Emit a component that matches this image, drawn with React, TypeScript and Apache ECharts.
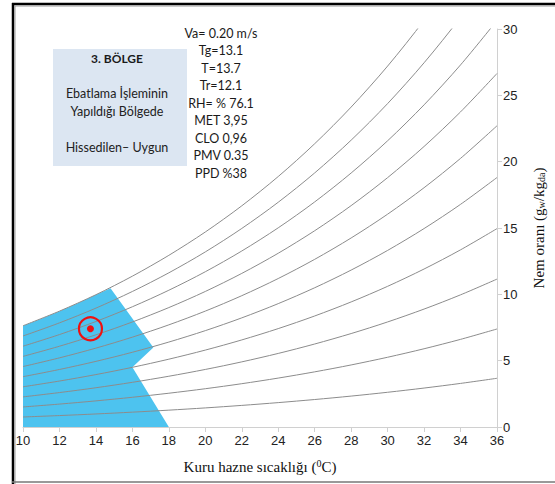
import React, { useEffect, useRef } from "react";
import * as echarts from "echarts";

// Dry-bulb temperatures (°C) at which curve values are read
const temps = [10, 12, 14, 16, 18, 20, 22, 24, 26, 28, 30, 32, 34, 36];
// Humidity ratio (g/kg) for each relative-humidity curve
const rh10 = [0.755, 0.862, 0.983, 1.119, 1.27, 1.439, 1.628, 1.838, 2.071, 2.33, 2.617, 2.935, 3.285, 3.672];
const rh20 = [1.511, 1.727, 1.969, 2.241, 2.546, 2.885, 3.264, 3.687, 4.157, 4.678, 5.257, 5.898, 6.606, 7.388];
const rh30 = [2.27, 2.595, 2.959, 3.368, 3.826, 4.338, 4.909, 5.546, 6.256, 7.044, 7.919, 8.889, 9.962, 11.148];
const rh40 = [3.03, 3.464, 3.951, 4.499, 5.112, 5.797, 6.563, 7.417, 8.369, 9.427, 10.604, 11.909, 13.354, 14.954];
const rh50 = [3.792, 4.336, 4.947, 5.634, 6.403, 7.263, 8.226, 9.299, 10.496, 11.829, 13.311, 14.958, 16.782, 18.805];
const rh60 = [4.556, 5.211, 5.946, 6.773, 7.7, 8.736, 9.897, 11.192, 12.638, 14.249, 16.042, 18.037, 20.248, 22.704];
const rh70 = [5.322, 6.088, 6.948, 7.916, 9.002, 10.216, 11.577, 13.097, 14.795, 16.687, 18.797, 21.145, 23.751, 26.649];
const rh80 = [6.09, 6.967, 7.953, 9.063, 10.309, 11.703, 13.266, 15.013, 16.966, 19.145, 21.575, 24.283, 27.293, 30.644];
const rh90 = [6.859, 7.849, 8.961, 10.215, 11.622, 13.197, 14.965, 16.941, 19.152, 21.621, 24.378, 27.453, 30.875, 34.69];
const rh100 = [7.631, 8.734, 9.973, 11.37, 12.94, 14.698, 16.672, 18.88, 21.353, 24.116, 27.205, 30.654, 34.495, 38.78];
const rhCurves = [rh10, rh20, rh30, rh40, rh50, rh60, rh70, rh80, rh90, rh100];

// Comfort zone polygon vertices [T, w]
const zoneT = [10, 10, 11, 12, 13, 14, 14.8, 17.15, 16.0, 18];
const zoneW = [0, 7.631, 8.166, 8.734, 9.334, 9.973, 10.45, 6.0, 4.5, 0];

// Measured point
const pointT = 13.7;
const pointW = 7.4;

// Tick settings
const xMin = 10, xMax = 36, xStep = 2;
const yMin = 0, yMax = 30, yStep = 5;

// Text blocks
const boxTitle = "3. BÖLGE";
const boxLines = ["Ebatlama İşleminin", "Yapıldığı Bölgede", "", "Hissedilen– Uygun"];
const paramLines = ["Va= 0.20 m/s", "Tg=13.1", "T=13.7", "Tr=12.1", "RH= % 76.1", "MET 3,95", "CLO 0,96", "PMV 0.35", "PPD %38"];

export default function App() {
  const ref = useRef<HTMLDivElement>(null);
  useEffect(() => {
    if (!ref.current) return;
    const chart = echarts.init(ref.current, null, { renderer: "svg" });
    const zonePts = zoneT.map((t, i) => [t, zoneW[i]]);
    const calibri = 'Lato, "Open Sans", sans-serif';

    const lineSeries = rhCurves.map((arr, k) => ({
      type: "line",
      name: "rh" + (k + 1) * 10,
      data: temps.map((t, i) => [t, arr[i]]),
      smooth: 0.3,
      symbol: "none",
      clip: true,
      lineStyle: { color: "#8c8c8c", width: 1 },
      z: 3,
      silent: true,
    }));

    const textEls: any[] = [];
    textEls.push({
      type: "rect",
      shape: { x: 53, y: 49, width: 134, height: 117 },
      style: { fill: "#dce6f2" },
      z: 10,
    });
    textEls.push({
      type: "text",
      x: 117,
      y: 58,
      style: { text: boxTitle, font: `bold 12px ${calibri}`, fill: "#1a1a1a", align: "center", verticalAlign: "middle" },
      z: 11,
    });
    boxLines.forEach((s, i) => {
      if (!s) return;
      textEls.push({
        type: "text",
        x: 117,
        y: 93 + i * 18,
        style: { text: s, font: `12.5px ${calibri}`, fill: "#222", align: "center", verticalAlign: "middle" },
        z: 11,
      });
    });
    paramLines.forEach((s, i) => {
      textEls.push({
        type: "text",
        x: 221,
        y: 33 + i * 17.5,
        style: { text: s, font: `12.5px ${calibri}`, fill: "#1a1a1a", align: "center", verticalAlign: "middle" },
        z: 11,
      });
    });
    // frame
    textEls.push({ type: "line", shape: { x1: 12, y1: 4, x2: 555, y2: 4 }, style: { stroke: "#000", lineWidth: 2.5 }, z: 20 });
    textEls.push({ type: "line", shape: { x1: 15, y1: 6, x2: 555, y2: 6 }, style: { stroke: "#999", lineWidth: 1 }, z: 20 });
    textEls.push({ type: "line", shape: { x1: 13, y1: 3, x2: 13, y2: 484 }, style: { stroke: "#000", lineWidth: 2.5 }, z: 20 });
    textEls.push({ type: "line", shape: { x1: 15, y1: 6, x2: 15, y2: 484 }, style: { stroke: "#999", lineWidth: 1 }, z: 20 });
    textEls.push({ type: "line", shape: { x1: 12, y1: 482, x2: 555, y2: 482 }, style: { stroke: "#777", lineWidth: 1.5 }, z: 20 });

    chart.setOption({
      animation: false,
      backgroundColor: "#fff",
      grid: { left: 23, right: 58, top: 29, bottom: 57, containLabel: false },
      xAxis: {
        type: "value",
        min: xMin,
        max: xMax,
        interval: xStep,
        name: "{a|Kuru hazne sıcaklığı (}{s|0}{a|C)}",
        nameLocation: "middle",
        nameGap: 31,
        nameTextStyle: {
          rich: {
            a: { fontFamily: '"Liberation Serif", serif', fontSize: 15, color: "#111" },
            s: { fontFamily: '"Liberation Serif", serif', fontSize: 10, color: "#111", padding: [0, 0, 7, 0] },
          },
        },
        axisLine: { show: true, lineStyle: { color: "#d0d0d0", width: 1 } },
        axisTick: { show: true, length: 5, lineStyle: { color: "#d0d0d0" } },
        axisLabel: { color: "#222", fontFamily: '"Liberation Sans", Arial, sans-serif', fontSize: 13, margin: 7 },
        splitLine: { show: false },
      },
      yAxis: {
        type: "value",
        position: "right",
        min: yMin,
        max: yMax,
        interval: yStep,
        name: "{a|Nem oranı (g}{b|w}{a|/kg}{b|da}{a|)}",
        nameLocation: "middle",
        nameRotate: 90,
        nameGap: 34,
        nameTextStyle: {
          rich: {
            a: { fontFamily: '"Liberation Serif", serif', fontSize: 15, color: "#111" },
            b: { fontFamily: '"Liberation Serif", serif', fontSize: 10, color: "#111", padding: [5, 0, 0, 0] },
          },
        },
        axisLine: { show: true, lineStyle: { color: "#d0d0d0", width: 1 } },
        axisTick: { show: true, length: 5, lineStyle: { color: "#d0d0d0" } },
        axisLabel: { color: "#222", fontFamily: '"Liberation Sans", Arial, sans-serif', fontSize: 13, margin: 6 },
        splitLine: { show: false },
      },
      series: [
        {
          type: "custom",
          name: "zone",
          data: zonePts,
          z: 1,
          silent: true,
          renderItem: (params: any, api: any) => {
            if (params.dataIndex !== 0) return null;
            return {
              type: "polygon",
              shape: { points: zonePts.map((p) => api.coord(p)) },
              style: { fill: "#4dc3ef" },
            };
          },
        },
        ...lineSeries,
        {
          type: "scatter",
          name: "ring",
          data: [[pointT, pointW]],
          symbol: "circle",
          symbolSize: 23,
          itemStyle: { color: "rgba(0,0,0,0)", borderColor: "#ee1111", borderWidth: 2.2, opacity: 1 },
          z: 5,
          silent: true,
        },
        {
          type: "scatter",
          name: "dot",
          data: [[pointT, pointW]],
          symbol: "circle",
          symbolSize: 7,
          itemStyle: { color: "#ee1111", opacity: 1 },
          z: 6,
          silent: true,
        },
      ],
      graphic: textEls,
    });
    return () => chart.dispose();
  }, []);
  return <div ref={ref} style={{ position: "fixed", left: 0, top: 0, width: 555, height: 484 }} />;
}
